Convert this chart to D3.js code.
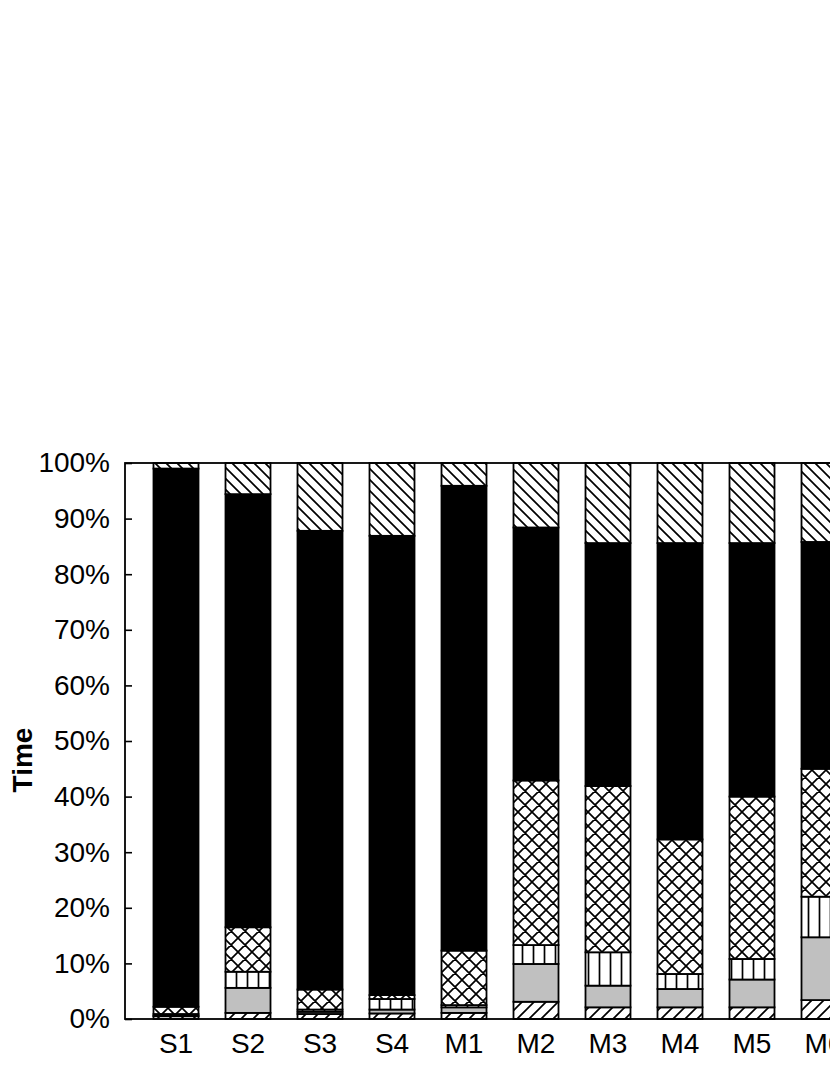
<!DOCTYPE html>
<html>
<head>
<meta charset="utf-8">
<script src="https://cdn.jsdelivr.net/npm/d3@7"></script>
<style>
  body { margin: 0; background: #fff; }
  text { font-family: "Liberation Sans", Arial, sans-serif; }
</style>
</head>
<body>
<div class="chart"></div>
<script>
  // categories and stacked shares (percent), bottom to top
  var categories = ["S1", "S2", "S3", "S4", "M1", "M2", "M3", "M4", "M5", "M6"];
  var slashPart = [0.5, 1.1, 0.9, 1.0, 1.1, 3.1, 2.1, 2.1, 2.1, 3.4];
  var grayPart  = [0.1, 4.5, 0.4, 0.7, 1.0, 6.8, 3.9, 3.3, 5.0, 11.3];
  var vertPart  = [0.3, 2.9, 0.4, 1.9, 0.4, 3.4, 6.0, 2.7, 3.7, 7.3];
  var crossPart = [1.3, 8.0, 3.6, 0.7, 9.8, 29.6, 29.9, 24.2, 29.2, 23.0];
  var blackPart = [96.8, 77.9, 82.5, 82.6, 83.6, 45.5, 43.7, 53.3, 45.6, 40.8];
  var backPart  = [1.0, 5.6, 12.2, 13.1, 4.1, 11.6, 14.4, 14.4, 14.4, 14.2];
  var yTicks = [0, 10, 20, 30, 40, 50, 60, 70, 80, 90, 100];

  var seriesKeys = ["slash", "gray", "vert", "cross", "black", "back"];
  var seriesVals = [slashPart, grayPart, vertPart, crossPart, blackPart, backPart];

  var table = categories.map(function(c, i) {
    var row = { cat: c };
    seriesKeys.forEach(function(k, j) { row[k] = seriesVals[j][i]; });
    return row;
  });

  var width = 830, height = 1075;
  var plotLeft = 125, plotTop = 463, plotBottom = 1019, plotRight = 874;

  var svg = d3.select(".chart").append("svg")
    .attr("width", width)
    .attr("height", height);

  // hatch patterns
  var defs = svg.append("defs");
  function pat(id, size, d) {
    var p = defs.append("pattern")
      .attr("id", id)
      .attr("patternUnits", "userSpaceOnUse")
      .attr("width", size)
      .attr("height", size);
    p.append("rect").attr("width", size).attr("height", size).attr("fill", "#fff");
    p.append("path").attr("d", d)
      .attr("stroke", "#000").attr("stroke-width", 1.7).attr("fill", "none");
  }
  pat("slash", 12, "M0,12L12,0M-3,3L3,-3M9,15L15,9");
  pat("back", 11, "M0,0L11,11M-3,8L3,14M8,-3L14,3");
  pat("cross", 14, "M0,0L14,14M0,14L14,0M-3,3L3,-3M-3,11L3,17M11,-3L17,3M11,17L17,11");
  pat("vert", 11, "M5.5,0V11");

  var fills = {
    slash: "url(#slash)", gray: "#c0c0c0", vert: "url(#vert)",
    cross: "url(#cross)", black: "#000", back: "url(#back)"
  };

  var x = d3.scaleBand()
    .domain(categories)
    .range([126.5, 873.5])
    .paddingInner(0.375)
    .paddingOuter(0.375);

  var y = d3.scaleLinear()
    .domain([0, 100])
    .range([plotBottom, plotTop]);

  var stack = d3.stack().keys(seriesKeys);
  var layers = stack(table);

  svg.selectAll("g.layer")
    .data(layers)
    .enter().append("g")
    .attr("class", "layer")
    .attr("fill", function(d) { return fills[d.key]; })
    .selectAll("rect")
    .data(function(d) { return d; })
    .enter().append("rect")
    .attr("x", function(d) { return x(d.data.cat); })
    .attr("width", x.bandwidth())
    .attr("y", function(d) { return y(d[1]); })
    .attr("height", function(d) { return y(d[0]) - y(d[1]); })
    .attr("stroke", "#000")
    .attr("stroke-width", 1.8);

  // frame
  svg.append("rect")
    .attr("x", plotLeft)
    .attr("y", plotTop)
    .attr("width", plotRight - plotLeft)
    .attr("height", plotBottom - plotTop)
    .attr("fill", "none")
    .attr("stroke", "#000")
    .attr("stroke-width", 1.8);

  // y axis, ticks inward
  var yAxis = d3.axisLeft(y)
    .tickValues(yTicks)
    .tickSize(-7)
    .tickPadding(15)
    .tickFormat(function(d) { return d + "%"; });

  var gy = svg.append("g")
    .attr("transform", "translate(" + plotLeft + ",0)")
    .call(yAxis);
  gy.select(".domain").remove();
  gy.selectAll("line").attr("stroke-width", 1.6);
  gy.selectAll("text")
    .attr("font-size", 28)
    .attr("fill", "#000")
    .style("font-family", "Liberation Sans, Arial, sans-serif");

  // x labels
  var xAxis = d3.axisBottom(x).tickSize(0).tickPadding(14);
  var gx = svg.append("g")
    .attr("transform", "translate(0," + plotBottom + ")")
    .call(xAxis);
  gx.select(".domain").remove();
  gx.selectAll("text")
    .attr("font-size", 28)
    .attr("fill", "#000")
    .style("font-family", "Liberation Sans, Arial, sans-serif");

  svg.append("text")
    .attr("transform", "translate(32,760) rotate(-90)")
    .attr("text-anchor", "middle")
    .attr("font-size", 28)
    .attr("font-weight", "bold")
    .text("Time");
</script>
</body>
</html>
